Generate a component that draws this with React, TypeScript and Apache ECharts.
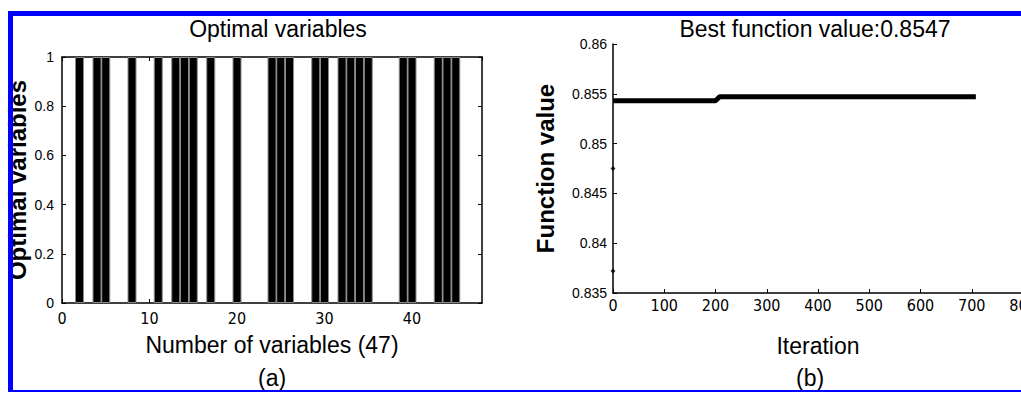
import React, { useEffect, useRef } from "react";
import * as echarts from "echarts";

// Left panel: selected variables (value 1) out of 47
const selectedVariables = [2, 4, 5, 8, 11, 13, 14, 15, 17, 20, 24, 25, 26, 29, 30, 32, 33, 34, 35, 39, 40, 43, 44, 45];
const selectedValue = 1;

// Right panel: convergence curve
const iterations = [0, 200, 208, 708];
const functionValues = [0.8543, 0.8543, 0.8547, 0.8547];
const initialIterations = [0, 0];
const initialValues = [0.8372, 0.8475];

const leftTitle = "Optimal variables";
const rightTitle = "Best function value:0.8547";

const NARROW = "'Liberation Sans Narrow', 'DejaVu Sans Condensed', 'Liberation Sans', Arial, sans-serif";
const SANS = "'Liberation Sans', Arial, Helvetica, sans-serif";

export default function App() {
  const ref = useRef<HTMLDivElement>(null);
  useEffect(() => {
    if (!ref.current) return;
    const chart = echarts.init(ref.current, null, { renderer: "svg" });
    const black = "#000";
    const axisLine = { show: true, onZero: false, lineStyle: { color: black, width: 1.5 } };
    const tickIn = { show: true, inside: true, length: 4, lineStyle: { color: black } };
    const option: any = {
      animation: false,
      backgroundColor: "#fff",
      title: [
        { text: leftTitle, left: 273, top: 12, textAlign: "center", textStyle: { fontFamily: SANS, fontSize: 23, fontWeight: "normal", color: black } },
        { text: rightTitle, left: 810, top: 12, textAlign: "center", textStyle: { fontFamily: SANS, fontSize: 23, fontWeight: "normal", color: black } },
      ],
      grid: [
        { left: 62, right: 539, top: 57, bottom: 91, show: false, outerBoundsMode: "none", containLabel: false },
        { left: 613, right: -2, top: 44, bottom: 101, show: false, outerBoundsMode: "none", containLabel: false },
      ],
      xAxis: [
        {
          type: "value", gridIndex: 0, min: 0, max: 48, interval: 10, position: "bottom",
          axisLine, axisTick: tickIn, splitLine: { show: false },
          axisLabel: { showMaxLabel: false, color: black, fontFamily: NARROW, fontSize: 16, margin: 7 },
          name: "Number of variables (47)", nameLocation: "middle", nameGap: 30,
          nameTextStyle: { fontFamily: SANS, fontSize: 23, color: black },
        },
        {
          type: "value", gridIndex: 0, min: 0, max: 48, interval: 10, position: "top",
          axisLine, axisTick: tickIn, splitLine: { show: false }, axisLabel: { show: false },
        },
        {
          type: "value", gridIndex: 1, min: 0, max: 800, interval: 100, position: "bottom",
          axisLine, axisTick: tickIn, splitLine: { show: false },
          axisLabel: { color: black, fontFamily: NARROW, fontSize: 16, margin: 4 },
          name: "Iteration", nameLocation: "middle", nameGap: 41,
          nameTextStyle: { fontFamily: SANS, fontSize: 23, color: black },
        },
      ],
      yAxis: [
        {
          type: "value", gridIndex: 0, min: 0, max: 1, interval: 0.2, position: "left",
          axisLine, axisTick: tickIn, splitLine: { show: false },
          axisLabel: { color: black, fontFamily: SANS, fontSize: 14, margin: 8 },
          name: "Optimal variables", nameLocation: "middle", nameGap: 33,
          nameTextStyle: { fontFamily: SANS, fontSize: 24, fontWeight: "bold", color: black },
        },
        {
          type: "value", gridIndex: 0, min: 0, max: 1, interval: 0.2, position: "right",
          axisLine, axisTick: tickIn, splitLine: { show: false }, axisLabel: { show: false },
        },
        {
          type: "value", gridIndex: 1, min: 0.835, max: 0.86, interval: 0.005, position: "left",
          axisLine, axisTick: tickIn, splitLine: { show: false },
          axisLabel: { color: black, fontFamily: SANS, fontSize: 14, margin: 6 },
          name: "Function value", nameLocation: "middle", nameGap: 56,
          nameTextStyle: { fontFamily: SANS, fontSize: 24, fontWeight: "bold", color: black },
        },
      ],
      series: [
        {
          type: "bar", xAxisIndex: 0, yAxisIndex: 0, barWidth: 9,
          data: selectedVariables.map((v) => [v, selectedValue]),
          itemStyle: { color: black, borderColor: "#8a8a8a", borderWidth: 1 },
        },
        {
          type: "line", xAxisIndex: 2, yAxisIndex: 2, showSymbol: false,
          data: iterations.map((x, i) => [x, functionValues[i]]),
          lineStyle: { color: black, width: 5 },
        },
        {
          type: "scatter", xAxisIndex: 2, yAxisIndex: 2, symbol: "diamond", symbolSize: 5,
          data: initialIterations.map((x, i) => [x, initialValues[i]]),
          itemStyle: { color: black },
        },
      ],
      graphic: [
        { type: "text", left: 258, top: 366, style: { text: "(a)", font: `23px ${SANS}`, fill: black } },
        { type: "text", left: 796, top: 366, style: { text: "(b)", font: `23px ${SANS}`, fill: black } },
        { type: "rect", z: 100, shape: { x: 8, y: 11, width: 1013, height: 5 }, style: { fill: "#0000ff" } },
        { type: "rect", z: 100, shape: { x: 8, y: 11, width: 5, height: 381 }, style: { fill: "#0000ff" } },
        { type: "rect", z: 100, shape: { x: 8, y: 390, width: 1013, height: 2 }, style: { fill: "#0000ff" } },
      ],
    };
    chart.setOption(option);
    return () => chart.dispose();
  }, []);
  return (
    <div
      ref={ref}
      style={{ position: "fixed", left: 0, top: 0, width: 1021, height: 394, background: "#fff" }}
    />
  );
}
